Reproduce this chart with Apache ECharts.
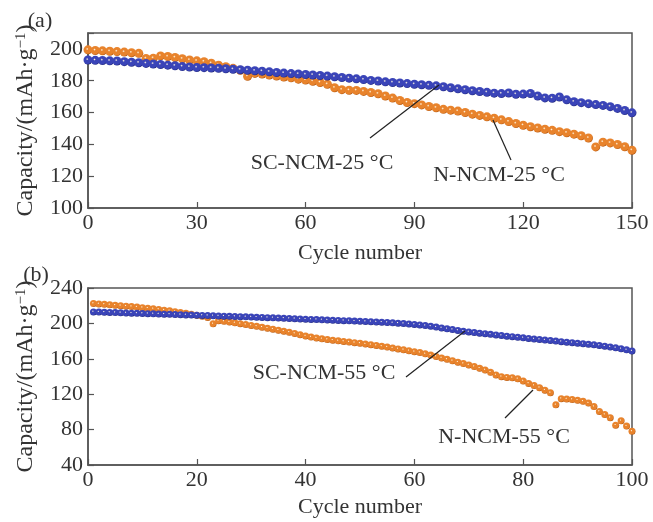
<!DOCTYPE html>
<html>
<head>
<meta charset="utf-8">
<script src="https://cdn.jsdelivr.net/npm/echarts@6/dist/echarts.min.js"></script>
<style>
  html, body { margin: 0; padding: 0; background: #fff; }
  #chart { width: 653px; height: 522px; }
</style>
</head>
<body>
<div id="chart"></div>
<script>
// panel (a): 25 °C, one marker every 2 cycles
const cyclesA = [0,2,4,6,8,10,12,14,16,18,20,22,24,26,28,30,32,34,36,38,40,42,44,46,48,50,52,54,56,58,60,62,64,66,68,70,72,74,76,78,80,82,84,86,88,90,92,94,96,98,100,102,104,106,108,110,112,114,116,118,120,122,124,126,128,130,132,134,136,138,140,142,144,146,148,150];
const scNcm25 = [193.0,192.8,192.7,192.5,192.4,192.0,191.6,191.3,190.9,190.5,
  190.2,189.8,189.4,188.9,188.6,188.3,188.2,188.0,187.8,187.5,
  187.2,186.9,186.6,186.3,186.0,185.6,185.2,184.8,184.5,184.2,
  183.9,183.6,183.3,182.9,182.5,182.0,181.6,181.2,180.7,180.2,
  179.8,179.3,178.9,178.6,178.2,177.8,177.5,177.1,176.8,176.2,
  175.6,174.9,174.3,173.7,173.2,172.7,172.2,171.9,172.3,171.5,
  171.6,172.0,170.4,169.2,169.0,169.8,168.0,166.8,166.2,165.6,
  165.0,164.5,163.7,162.6,161.3,159.8];
const nNcm25 = [199.4,199.0,198.8,198.5,198.3,198.0,197.6,197.2,194.0,194.2,
  195.6,195.2,194.6,193.8,193.0,192.5,192.0,191.0,189.8,188.8,
  187.8,186.6,182.8,184.6,184.2,183.6,183.0,182.3,181.8,181.0,
  180.4,179.7,178.9,177.8,175.6,174.4,174.0,173.9,173.3,172.6,
  171.8,170.4,169.1,167.6,166.3,165.6,164.8,163.8,163.0,162.0,
  161.5,160.9,160.0,159.0,158.2,157.3,156.4,155.4,154.3,153.1,
  152.0,151.1,150.3,149.5,148.8,148.0,147.3,146.4,145.4,144.0,
  138.4,141.4,140.9,139.9,138.5,136.3];

// panel (b): 55 °C, every cycle
const cyclesB = [1,2,3,4,5,6,7,8,9,10,11,12,13,14,15,16,17,18,19,20,21,22,23,24,25,26,27,28,29,30,31,32,33,34,35,36,37,38,39,40,41,42,43,44,45,46,47,48,49,50,51,52,53,54,55,56,57,58,59,60,61,62,63,64,65,66,67,68,69,70,71,72,73,74,75,76,77,78,79,80,81,82,83,84,85,86,87,88,89,90,91,92,93,94,95,96,97,98,99,100];
const scNcm55 = [213.0,212.8,212.6,212.4,212.2,212.0,211.8,211.6,211.4,211.2,
  211.0,210.8,210.6,210.4,210.2,210.0,209.8,209.6,209.4,209.2,
  209.0,208.8,208.6,208.4,208.2,208.0,207.8,207.6,207.4,207.2,
  207.0,206.8,206.5,206.3,206.0,205.8,205.5,205.3,205.0,204.8,
  204.5,204.3,204.0,203.8,203.6,203.3,203.1,202.9,202.6,202.4,
  202.1,201.9,201.6,201.3,201.0,200.6,200.2,199.8,199.3,198.8,
  198.2,197.5,196.7,195.8,194.9,193.9,193.0,192.1,191.2,190.4,
  189.7,189.0,188.3,187.6,187.0,186.3,185.6,185.0,184.3,183.7,
  183.0,182.4,181.8,181.2,180.6,180.0,179.4,178.8,178.2,177.6,
  177.0,176.4,175.8,175.1,174.3,173.4,172.4,171.3,170.1,168.8];
const nNcm55 = [222.5,222.0,221.5,221.0,220.5,220.0,219.5,219.0,218.4,217.8,
  217.2,216.5,215.8,215.0,214.2,213.3,212.4,211.4,210.4,209.3,
  208.2,206.8,199.5,203.0,202.3,201.5,200.6,199.7,198.7,197.7,
  196.7,195.7,194.6,193.5,192.4,191.2,190.0,188.6,187.2,185.8,
  184.6,183.5,182.6,181.8,181.0,180.3,179.6,178.9,178.2,177.5,
  176.7,175.9,175.0,174.1,173.2,172.2,171.2,170.2,169.1,168.0,
  167.0,165.6,164.2,162.6,161.0,159.4,157.8,156.2,154.6,153.0,
  151.2,149.4,147.4,144.8,141.8,139.8,139.0,138.6,137.4,135.0,
  132.2,129.8,127.4,124.6,121.6,108.0,115.0,114.6,114.0,113.2,
  112.0,110.0,106.0,100.5,97.0,93.5,85.0,90.0,84.0,78.0];

const FONT = '"Liberation Serif", "Times New Roman", serif';
const TXT = '#333';
const AX = '#555';

const zip = (xs, ys) => xs.map((x, i) => [x, ys[i]]);

function ball(base, dark) {
  return new echarts.graphic.RadialGradient(0.42, 0.4, 0.6, [
    { offset: 0, color: '#fff6e0' },
    { offset: 0.25, color: base },
    { offset: 0.8, color: base },
    { offset: 1, color: dark }
  ]);
}
const ORANGE = ball('#e8832c', '#b85a10');
const BLUE = ball('#3a44b8', '#232a80');

function xAx(grid, max, step) {
  return {
    type: 'value', gridIndex: grid, min: 0, max: max, interval: step,
    name: 'Cycle number', nameLocation: 'middle', nameGap: grid === 0 ? 34 : 31,
    nameTextStyle: { fontFamily: FONT, fontSize: 22, color: TXT },
    axisLine: { lineStyle: { color: AX, width: 1.5 } },
    axisTick: { inside: true, length: 6, lineStyle: { color: AX, width: 1.2 } },
    axisLabel: { fontFamily: FONT, fontSize: 22, color: TXT, margin: 4 },
    splitLine: { show: false }
  };
}
function yAx(grid, min, max, step) {
  return {
    type: 'value', gridIndex: grid, min: min, max: max, interval: step,
    name: '{t|Capacity/(mAh·g}{s|−1}{t|)}', nameLocation: 'middle', nameGap: 50,
    nameTextStyle: {
      color: TXT,
      rich: {
        t: { fontFamily: FONT, fontSize: 24, color: TXT, verticalAlign: 'bottom' },
        s: { fontFamily: FONT, fontSize: 15, color: TXT, verticalAlign: 'top' }
      }
    },
    axisLine: { lineStyle: { color: AX, width: 1.5 } },
    axisTick: { inside: true, length: 6, lineStyle: { color: AX, width: 1.2 } },
    axisLabel: {
      fontFamily: FONT, fontSize: 22, color: TXT, margin: 5,
      formatter: v => (v > max - 1 && v % step !== 0) ? '' : v
    },
    splitLine: { show: false }
  };
}
function dots(name, xi, data, color, size) {
  return {
    name: name, type: 'scatter', xAxisIndex: xi, yAxisIndex: xi,
    data: data, symbol: 'circle', symbolSize: size,
    itemStyle: { color: color, opacity: 1 },
    silent: true
  };
}
function note(text, x, y) {
  return {
    type: 'text', x: x, y: y, z: 100,
    style: { text: text, fontFamily: FONT, fontSize: 22, fill: TXT, align: 'center', verticalAlign: 'middle' }
  };
}
function leader(x1, y1, x2, y2) {
  return {
    type: 'line', z: 100,
    shape: { x1: x1, y1: y1, x2: x2, y2: y2 },
    style: { stroke: '#222', lineWidth: 1.2 }
  };
}

const chart = echarts.init(document.getElementById('chart'));
chart.setOption({
  animation: false,
  backgroundColor: '#fff',
  grid: [
    { left: 88, top: 33, width: 544, height: 175, show: true, borderColor: AX, borderWidth: 1.5 },
    { left: 88, top: 288, width: 544, height: 177, show: true, borderColor: AX, borderWidth: 1.5 }
  ],
  xAxis: [xAx(0, 150, 30), xAx(1, 100, 20)],
  yAxis: [yAx(0, 100, 210, 20), yAx(1, 40, 240, 40)],
  series: [
    dots('N-NCM-25 °C', 0, zip(cyclesA, nNcm25), ORANGE, 9),
    dots('SC-NCM-25 °C', 0, zip(cyclesA, scNcm25), BLUE, 9),
    dots('N-NCM-55 °C', 1, zip(cyclesB, nNcm55), ORANGE, 7),
    dots('SC-NCM-55 °C', 1, zip(cyclesB, scNcm55), BLUE, 7)
  ],
  graphic: [
    note('(a)', 40, 21),
    note('(b)', 36, 275),
    note('SC-NCM-25 °C', 322, 163),
    note('N-NCM-25 °C', 499, 175),
    note('SC-NCM-55 °C', 324, 373),
    note('N-NCM-55 °C', 504, 437),
    leader(370, 138, 439, 85),
    leader(511, 160, 493, 120),
    leader(406, 377, 465, 331),
    leader(505, 418, 533, 390)
  ]
});
window.addEventListener('resize', chart.resize);
</script>
</body>
</html>
